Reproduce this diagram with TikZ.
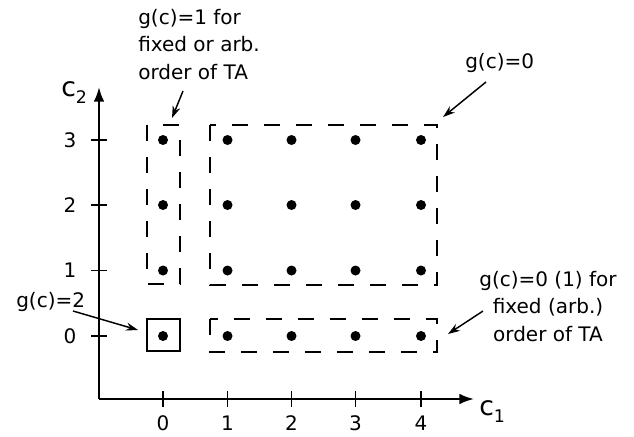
\documentclass[tikz,border=0pt]{standalone}
\usepackage{fontspec}
\setmainfont{DejaVu Sans}
\usetikzlibrary{arrows.meta}
\begin{document}
\begin{tikzpicture}[x=0.75pt,y=-0.75pt,
  lbl/.style={font=\fontsize{15}{20.6}\selectfont, inner sep=0pt},
  dotn/.style={circle, fill=black, inner sep=0pt, minimum size=7.5pt},
  dbox/.style={draw, line width=1.1pt, dash pattern=on 12pt off 12pt},
  sbox/.style={draw, line width=1.1pt},
  ax/.style={line width=1.6pt, -{Latex[length=11pt,width=8pt]}},
  tickl/.style={line width=1.1pt},
  ann/.style={line width=1.1pt, -{Stealth[length=9pt,width=6pt]}}]
\useasboundingbox (0,0) rectangle (634,436);
% axes
\coordinate (O) at (99,399);
\coordinate (ytop) at (99,87);
\coordinate (xend) at (474,399);
\draw[ax] (O) -- (ytop);
\draw[ax] (O) -- (xend);
\node[anchor=base west, inner sep=0pt] (c2) at (61,96) {\fontsize{20}{20}\selectfont c\raisebox{-5.5pt}{\fontsize{13}{13}\selectfont 2}};
\node[anchor=base west, inner sep=0pt] (c1) at (479,415) {\fontsize{20}{20}\selectfont c\raisebox{-5.5pt}{\fontsize{13}{13}\selectfont 1}};
% ticks
\foreach \i/\x in {0/163,1/227.5,2/291.5,3/355.5,4/421}{
  \coordinate (xt\i a) at (\x,391);
  \coordinate (xt\i b) at (\x,407);
  \draw[tickl] (xt\i a) -- (xt\i b);
  \node[lbl] (xl\i) at (\x,423.5) {\i};
}
\foreach \j/\y in {0/336,1/270.5,2/205,3/140}{
  \coordinate (yt\j a) at (91,\y);
  \coordinate (yt\j b) at (107,\y);
  \draw[tickl] (yt\j a) -- (yt\j b);
  \node[lbl] (yl\j) at (70,\y) {\j};
}
% dots
\foreach \i/\x in {0/163,1/227.5,2/291.5,3/355.5,4/421}{
  \foreach \j/\y in {0/336,1/270.5,2/205,3/140}{
    \node[dotn] (d\i\j) at (\x,\y) {};
  }
}
% boxes
\draw[dbox] (147,125) rectangle (180,284);
\draw[dbox] (210,125) rectangle (437,285);
\draw[dbox] (210,319) rectangle (437,352);
\draw[sbox] (147,319) rectangle (180,351);
% annotations
\node[lbl, align=left, anchor=north west] (t1) at (138,9) {g(c)=1 for\\fixed or arb.\\order of TA};
\node[lbl, anchor=base west] (t0) at (465,68) {g(c)=0};
\node[lbl, anchor=base west] (t2) at (16,307) {g(c)=2};
\node[lbl, align=center, anchor=north] (t3) at (548,271) {g(c)=0 (1) for\\fixed (arb.)\\order of TA};
% arrows
\coordinate (a1s) at (183,91); \coordinate (a1e) at (172,118);
\coordinate (a0s) at (486,82); \coordinate (a0e) at (443,117);
\coordinate (a2s) at (73,311); \coordinate (a2e) at (138,330);
\coordinate (a3s) at (483,311); \coordinate (a3e) at (448,334);
\draw[ann] (a1s) -- (a1e);
\draw[ann] (a0s) -- (a0e);
\draw[ann] (a2s) -- (a2e);
\draw[ann] (a3s) -- (a3e);
\end{tikzpicture}
\end{document}
